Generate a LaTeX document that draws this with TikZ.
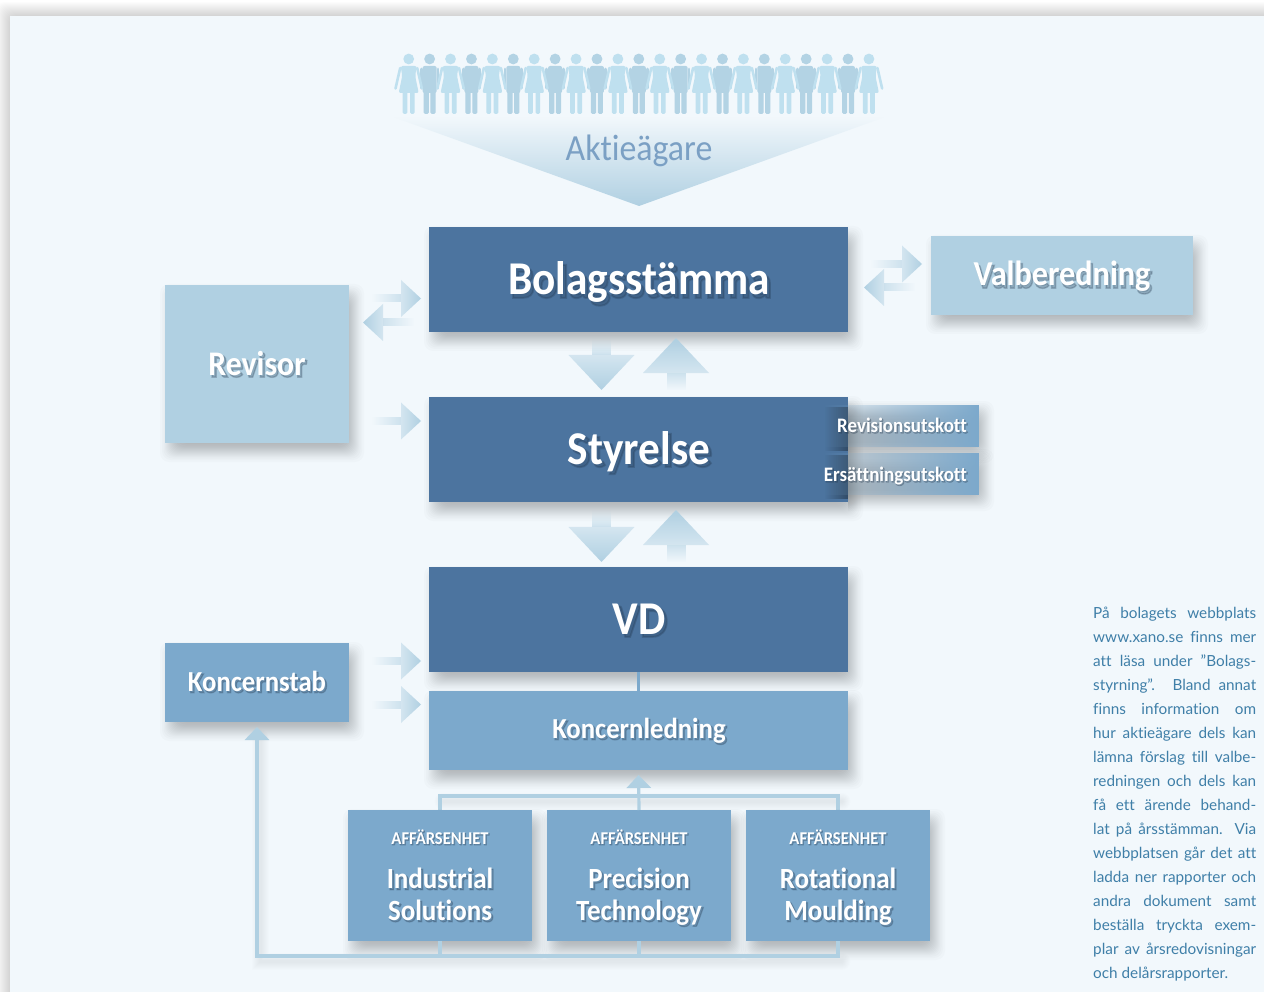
\documentclass[tikz,border=0pt]{standalone}
\usepackage{fontspec}
\usetikzlibrary{fadings,arrows.meta,calc}
\setmainfont[FakeStretch=0.92,Ligatures=NoCommon]{Carlito}
\newfontfamily\haloone[FakeStretch=0.92,Ligatures=NoCommon,FakeBold=4]{Carlito Bold}
\newfontfamily\bodyfont[Ligatures=NoCommon]{Lato}
\definecolor{panel}{HTML}{F2F8FC}
\definecolor{dark}{HTML}{4C749F}
\definecolor{mid}{HTML}{7CA9CC}
\definecolor{pale}{HTML}{B0D0E2}
\definecolor{manc}{HTML}{B3D3E4}
\definecolor{womanc}{HTML}{BFE0EF}
\definecolor{ink}{HTML}{3F7FA8}
\definecolor{aktie}{HTML}{7BA0C4}
\definecolor{haloc}{HTML}{1C2F44}
\tikzfading[name=shaftfade,left color=transparent!100,right color=transparent!45]
\tikzfading[name=headfade,left color=transparent!55,right color=transparent!0]
\tikzfading[name=funnelfade,top color=transparent!100,bottom color=transparent!0]
\tikzfading[name=sidefade,left color=transparent!100,middle color=transparent!40,right color=transparent!0]
\tikzfading[name=darkside,left color=transparent!100,right color=transparent!65]
\tikzset{
  flatbox/.style={draw=none,inner sep=0pt,outer sep=0pt,minimum width=#1},
  link/.style={draw=pale,line width=3.2pt},
  linktip/.style={-{Triangle[width=24pt,length=13pt]},shorten >=5pt},
  pics/manfig/.style={code={
    \fill[manc] (0,0) circle (5.4);
    \fill[manc,rounded corners=2pt] (-7,7) -- (7,7) -- (7,34) -- (-7,34) -- cycle;
    \draw[manc,line width=2.8pt,line cap=round] (-8.3,10) -- (-8.3,29);
    \draw[manc,line width=2.8pt,line cap=round] (8.3,10) -- (8.3,29);
    \fill[manc,rounded corners=1.5pt] (-6,30) rectangle (-0.8,55);
    \fill[manc,rounded corners=1.5pt] (0.8,30) rectangle (6,55);
  }},
  pics/womanfig/.style={code={
    \fill[womanc] (0,0) circle (5.4);
    \fill[womanc,rounded corners=2pt] (-8,7) -- (8,7) -- (6.5,17) -- (10,34) -- (-10,34) -- (-6.5,17) -- cycle;
    \draw[womanc,line width=2.6pt,line cap=round] (-8.5,9) -- (-13.2,29.5);
    \draw[womanc,line width=2.6pt,line cap=round] (8.5,9) -- (13.2,29.5);
    \fill[womanc,rounded corners=1.5pt] (-6,32) rectangle (-1.3,55);
    \fill[womanc,rounded corners=1.5pt] (1.3,32) rectangle (6,55);
  }},
}
\newcommand\softshadow[4]{%
  \foreach \r in {-10,-8,-6.5,-5,-4,-3,-2,-1,0,1,2,3,4,5,6.5,8,10}{%
    \fill[black,opacity=0.015,rounded corners=9pt]
      ({#1+5-\r},{#2+9-\r}) rectangle ({#3+5+\r},{#4+9+\r});}}
\newcommand\flatbox[6]{%
  \softshadow{#2}{#3}{#4}{#5}
  \node[flatbox=#4pt-#2pt,minimum height=#5pt-#3pt,fill=#6] (#1) at ({(#2+#4)/2},{(#3+#5)/2}) {};}
\newcommand\shadowtext[5][base]{%
  \node[anchor=#1,text=haloc,text opacity=0.24,font=\haloone\fontsize{#4}{#4}\selectfont,inner sep=0pt] at ({#2+0.05*#4},{#3+0.06*#4}) {#5};
  \node[anchor=#1,text=white,font=\bfseries\fontsize{#4}{#4}\selectfont,inner sep=0pt] at (#2,#3) {#5};}
\newcommand\harrow[5]{%
  \fill[pale,path fading=shaftfade,fading angle=#5] (#1,{#4-4}) rectangle (#2,{#4+4});
  \fill[pale,path fading=headfade,fading angle=#5] (#2,{#4-18.5}) -- (#3,#4) -- (#2,{#4+18.5}) -- cycle;}
\newcommand\varrow[5]{%
  \fill[pale,path fading=shaftfade,fading angle=#5] ({#1-9.5},#2) rectangle ({#1+9.5},#3);
  \fill[pale,path fading=headfade,fading angle=#5] ({#1-33},#3) -- (#1,#4) -- ({#1+33},#3) -- cycle;}
\newcommand\justline[1]{\makebox[163pt][s]{#1}}
\begin{document}
\begin{tikzpicture}[x=1pt,y=-1pt]
\useasboundingbox (0,0) rectangle (1264,992);
\fill[white] (0,0) rectangle (1264,992);
\begin{scope}
\clip (0,0) rectangle (1264,992);
\foreach \r in {1,2,...,14}{\fill[black,opacity=0.011,rounded corners=8pt] ({10-\r},{16-\r}) rectangle (1300,1020);}
\fill[panel] (10,16) rectangle (1264,992);
\end{scope}

% shareholders
\foreach \i in {1,3,...,21}{\pic at ({408.7+20.92*\i},59) {manfig};}
\foreach \i in {0,2,...,22}{\pic at ({408.7+20.92*\i},59) {womanfig};}
\fill[pale,path fading=funnelfade] (393,117) -- (885,117) -- (639,206) -- cycle;
\node[anchor=base,text=aktie,font=\fontsize{36.8}{36.8}\selectfont,inner sep=0pt] (aktie) at (639,160.5) {Aktieägare};

\coordinate (busL) at (440,796);
\coordinate (busR) at (838,796);
\coordinate (baseL) at (257,956);
\coordinate (baseR) at (838,956);
\foreach \w in {3,5,...,17}{
  \draw[black,opacity=0.009,line width=\w pt,line cap=round] (260,738) -- (260,961) -- (842,961);
  \draw[black,opacity=0.009,line width=\w pt,line cap=round] (443,801) -- (842,801);
}

\flatbox{bolag}{429}{227}{848}{332}{dark}
\flatbox{styrelse}{429}{397}{848}{502}{dark}
\flatbox{vd}{429}{567}{848}{672}{dark}
\flatbox{koncernledning}{429}{691}{848}{770}{mid}
\flatbox{revisor}{165}{285}{349}{443}{pale}
\flatbox{valberedning}{931}{236}{1193}{315}{pale}
\flatbox{koncernstab}{165}{643}{349}{722}{mid}

\draw[link,draw=mid] (vd.south) -- (koncernledning.north);
\draw[link] (838,810) -- (busR) -- (busL) -- (440,810);

\flatbox{unitA}{348}{810}{532}{941}{mid}
\flatbox{unitB}{547}{810}{731}{941}{mid}
\flatbox{unitC}{746}{810}{930}{941}{mid}
\draw[link,linktip,pale] (unitB.north) -- (koncernledning.south);
\draw[link,linktip,pale] (unitC.south) |- (baseL) -- (koncernstab.south);
\draw[link] (unitA.south) -- (unitA.south |- baseL);
\draw[link] (unitB.south) -- (unitB.south |- baseL);

% committees fading into the board box
\begin{scope}
\clip (848,395) rectangle (1020,530);
\softshadow{800}{402}{979}{444}
\softshadow{800}{450}{979}{492}
\end{scope}
\fill[black,path fading=darkside] (824,407) rectangle (848,451);
\fill[black,path fading=darkside] (824,455) rectangle (848,499);
\fill[mid,path fading=sidefade] (822,405) rectangle (979,447);
\fill[mid,path fading=sidefade] (822,453) rectangle (979,495);

\harrow{372}{401}{421}{298.5}{0}
\harrow{414}{383}{363}{322.5}{180}
\harrow{372}{401}{421}{421}{0}
\harrow{372}{401}{421}{661}{0}
\harrow{372}{401}{421}{704.5}{0}
\harrow{871}{902}{922}{264}{0}
\harrow{915}{884}{864}{287.5}{180}
\varrow{601.5}{338}{355}{390}{270}
\varrow{676}{390}{373}{338}{90}
\varrow{601.5}{510}{527}{562}{270}
\varrow{676}{562}{545}{510}{90}

\shadowtext{639}{295}{47}{Bolagsstämma}
\shadowtext{639}{464}{47}{Styrelse}
\shadowtext{639}{634}{47}{VD}
\shadowtext{1062}{286}{35}{Valberedning}
\shadowtext{257}{375}{34.5}{Revisor}
\shadowtext{257}{691}{29}{Koncernstab}
\shadowtext{639}{738}{29}{Koncernledning}
\shadowtext[base east]{967}{432}{20.6}{Revisionsutskott}
\shadowtext[base east]{967}{481}{20.6}{Ersättningsutskott}
\shadowtext{440}{844}{18}{AFFÄRSENHET}
\shadowtext{639}{844}{18}{AFFÄRSENHET}
\shadowtext{838}{844}{18}{AFFÄRSENHET}
\shadowtext{440}{888}{29.3}{Industrial}
\shadowtext{440}{920}{29.3}{Solutions}
\shadowtext{639}{888}{29.3}{Precision}
\shadowtext{639}{920}{29.3}{Technology}
\shadowtext{838}{888}{29.3}{Rotational}
\shadowtext{838}{920}{29.3}{Moulding}

\node[anchor=north west,inner sep=0pt,align=left,text=ink,font=\bodyfont\fontsize{15.3}{24}\selectfont] (sidetext) at (1093,607) {%
\justline{På bolagets webbplats}\\
\justline{www.xano.se finns mer}\\
\justline{att läsa under ”Bolags-}\\
\justline{styrning”. Bland annat}\\
\justline{finns information om}\\
\justline{hur aktieägare dels kan}\\
\justline{lämna förslag till valbe-}\\
\justline{redningen och dels kan}\\
\justline{få ett ärende behand-}\\
\justline{lat på årsstämman. Via}\\
\justline{webbplatsen går det att}\\
\justline{ladda ner rapporter och}\\
\justline{andra dokument samt}\\
\justline{beställa tryckta exem-}\\
\justline{plar av årsredovisningar}\\
och delårsrapporter.};
\end{tikzpicture}
\end{document}
